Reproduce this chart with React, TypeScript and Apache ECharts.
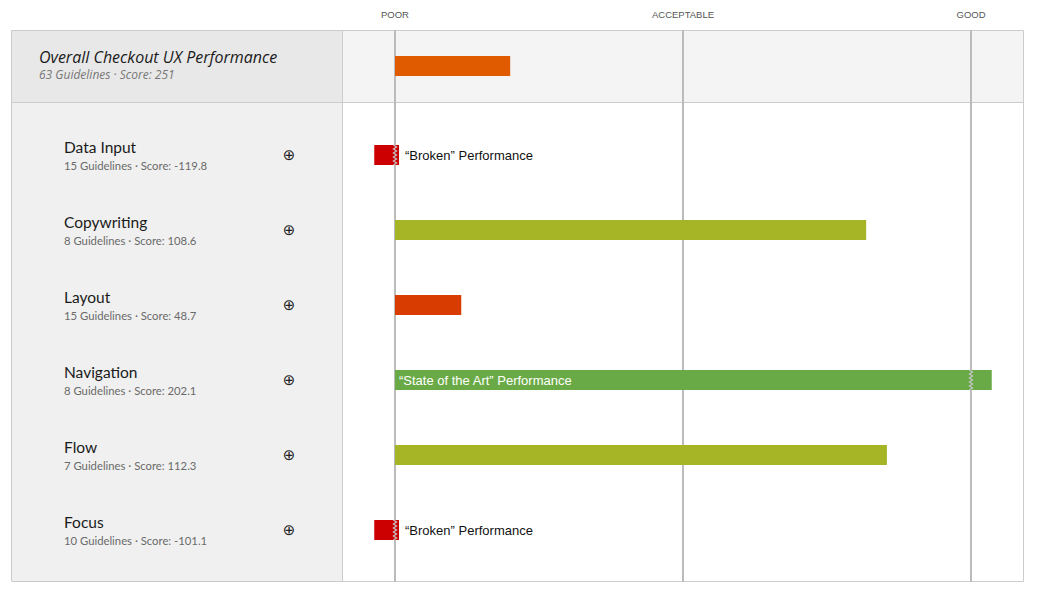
import React, { useEffect, useRef } from "react";
import * as echarts from "echarts";

// ---- data ----
const overallTitle = "Overall Checkout UX Performance";
const overallGuidelines = 63;
const overallScore = 251;
const overallBar = 20; // position on the Poor(0) – Acceptable(50) – Good(100) scale

const categories = ["Data Input", "Copywriting", "Layout", "Navigation", "Flow", "Focus"];
const guidelines = [15, 8, 15, 8, 7, 10];
const scores = [-119.8, 108.6, 48.7, 202.1, 112.3, -101.1];
const barStart = [-3.6, 0, 0, 0, 0, -3.6];
const barEnd = [0.7, 81.8, 11.5, 103.6, 85.4, 0.7];
const levels = ["broken", "fair", "weak", "art", "fair", "broken"];
const notes = ["“Broken” Performance", "", "", "“State of the Art” Performance", "", "“Broken” Performance"];

const refValues = [0, 50, 100];
const refLabels = ["POOR", "ACCEPTABLE", "GOOD"];

// ---- styles ----
const levelColors: Record<string, string> = {
  broken: "#cc0000",
  weak: "#d83c00",
  fair: "#a6b525",
  art: "#6aaa46",
  overall: "#e05a00",
};
const FONT = "Lato, 'Open Sans', sans-serif";
const ITALIC_FONT = "'Open Sans', Lato, sans-serif";
const BAR_FONT = "'Liberation Sans', Arial, sans-serif";
const X_MIN = -9.2;
const X_MAX = 109.2;
const BAR_H = 20;

function zigzag(x: number, y0: number, y1: number) {
  const pts: number[][] = [];
  let k = 0;
  for (let y = y0; y <= y1 + 0.01; y += 2) {
    pts.push([x + (k % 2 === 0 ? -1.5 : 1.5), y]);
    k++;
  }
  return pts;
}

function makeRenderItem(colorOf: (i: number) => string, noteOf: (i: number) => string) {
  return (params: any, api: any) => {
    const i = params.dataIndex;
    const cat = api.value(0);
    const s = api.value(1);
    const e = api.value(2);
    const p0 = api.coord([s, cat]);
    const p1 = api.coord([e, cat]);
    const yTop = p0[1] - BAR_H / 2;
    const children: any[] = [
      {
        type: "rect",
        shape: { x: p0[0], y: yTop, width: p1[0] - p0[0], height: BAR_H },
        style: { fill: colorOf(i) },
      },
    ];
    const breaks: number[] = [];
    if (s < 0) breaks.push(0);
    if (e > 100) breaks.push(100);
    breaks.forEach((b) => {
      const bx = api.coord([b, cat])[0];
      children.push({
        type: "polyline",
        shape: { points: zigzag(bx, yTop, yTop + BAR_H) },
        style: { stroke: "#c4c4c4", lineWidth: 1.3, fill: null },
      });
    });
    const note = noteOf(i);
    if (note) {
      const inside = e > 100;
      children.push({
        type: "text",
        x: inside ? p0[0] + 4 : p1[0] + 6,
        y: p0[1],
        style: {
          text: note,
          fill: inside ? "#ffffff" : "#111111",
          font: `13px ${BAR_FONT}`,
          verticalAlign: "middle",
          align: "left",
        },
      });
    }
    return { type: "group", children };
  };
}

export default function App() {
  const ref = useRef<HTMLDivElement>(null);
  useEffect(() => {
    if (!ref.current) return;
    const chart = echarts.init(ref.current, null, { renderer: "svg" });
    const xAxisBase = { type: "value", min: X_MIN, max: X_MAX, show: false };
    const hiddenCat = { axisLine: { show: false }, axisTick: { show: false } };
    const option: any = {
      animation: false,
      backgroundColor: "#ffffff",
      graphic: [
        { type: "rect", z: -10, shape: { x: 11.5, y: 30.5, width: 1012, height: 551 }, style: { fill: "#ffffff", stroke: "#cccccc", lineWidth: 1 } },
        { type: "rect", z: -9, shape: { x: 12, y: 31, width: 330, height: 71 }, style: { fill: "#e8e8e8" } },
        { type: "rect", z: -9, shape: { x: 12, y: 103, width: 330, height: 478 }, style: { fill: "#f0f0f0" } },
        { type: "rect", z: -9, shape: { x: 343, y: 31, width: 680, height: 71 }, style: { fill: "#f4f4f4" } },
        { type: "line", z: -8, shape: { x1: 11, y1: 102.5, x2: 1024, y2: 102.5 }, style: { stroke: "#cccccc", lineWidth: 1 } },
        { type: "line", z: -8, shape: { x1: 342.5, y1: 30, x2: 342.5, y2: 582 }, style: { stroke: "#cccccc", lineWidth: 1 } },
      ],
      grid: [
        { left: 342, right: 14, top: 30, bottom: 13 },
        { left: 342, right: 14, top: 30, height: 72 },
        { left: 342, right: 14, top: 117.5, height: 450 },
      ],
      xAxis: [
        { ...xAxisBase, gridIndex: 0 },
        { ...xAxisBase, gridIndex: 1 },
        { ...xAxisBase, gridIndex: 2 },
      ],
      yAxis: [
        { type: "value", gridIndex: 0, min: 0, max: 1, show: false },
        {
          type: "category",
          gridIndex: 1,
          data: [overallTitle],
          ...hiddenCat,
          axisLabel: {
            align: "left",
            verticalAlign: "bottom",
            margin: 303,
            fontSize: 16,
            lineHeight: 19,
            fontStyle: "italic",
            color: "#1a1a1a",
            fontFamily: ITALIC_FONT,
          },
        },
        {
          type: "category",
          gridIndex: 1,
          position: "left",
          data: [overallTitle],
          ...hiddenCat,
          axisLabel: {
            align: "left",
            verticalAlign: "top",
            margin: 303,
            formatter: () => `${overallGuidelines} Guidelines · Score: ${overallScore}`,
            fontSize: 12,
            lineHeight: 17,
            fontStyle: "italic",
            color: "#777777",
            fontFamily: ITALIC_FONT,
          },
        },
        {
          type: "category",
          gridIndex: 2,
          inverse: true,
          data: categories,
          ...hiddenCat,
          axisLabel: {
            align: "left",
            margin: 278,
            formatter: (v: string, i: number) => `{t|${v}}\n{s|${guidelines[i]} Guidelines · Score: ${scores[i]}}`,
            rich: {
              t: { fontSize: 15.5, color: "#1a1a1a", fontFamily: FONT, lineHeight: 20 },
              s: { fontSize: 11.3, color: "#6a6a6a", fontFamily: FONT, lineHeight: 16 },
            },
          },
        },
        {
          type: "category",
          gridIndex: 2,
          inverse: true,
          position: "left",
          data: categories,
          ...hiddenCat,
          axisLabel: {
            align: "center",
            margin: 53,
            formatter: () => "⊕",
            fontSize: 15,
            color: "#222222",
            fontFamily: "'DejaVu Sans', sans-serif",
          },
        },
      ],
      series: [
        {
          type: "line",
          xAxisIndex: 0,
          yAxisIndex: 0,
          data: [],
          silent: true,
          z: 1,
          markLine: {
            symbol: "none",
            silent: true,
            lineStyle: { color: "#bbbbbb", width: 2, type: "solid" },
            label: {
              position: "end",
              distance: 11,
              formatter: (p: any) => p.name,
              color: "#555555",
              fontSize: 9.5,
              fontFamily: BAR_FONT,
            },
            data: refValues.map((v, i) => ({ xAxis: v, name: refLabels[i] })),
          },
        },
        {
          type: "custom",
          xAxisIndex: 1,
          yAxisIndex: 1,
          z: 5,
          encode: { x: [1, 2], y: 0 },
          data: [[0, 0, overallBar]],
          renderItem: makeRenderItem(() => levelColors.overall, () => ""),
        },
        {
          type: "custom",
          xAxisIndex: 2,
          yAxisIndex: 3,
          z: 5,
          encode: { x: [1, 2], y: 0 },
          data: categories.map((_, i) => [i, barStart[i], barEnd[i]]),
          renderItem: makeRenderItem((i) => levelColors[levels[i]], (i) => notes[i]),
        },
      ],
    };
    chart.setOption(option);
    return () => chart.dispose();
  }, []);
  return (
    <div
      ref={ref}
      style={{ position: "absolute", left: 0, top: 0, width: 1038, height: 595 }}
    />
  );
}
